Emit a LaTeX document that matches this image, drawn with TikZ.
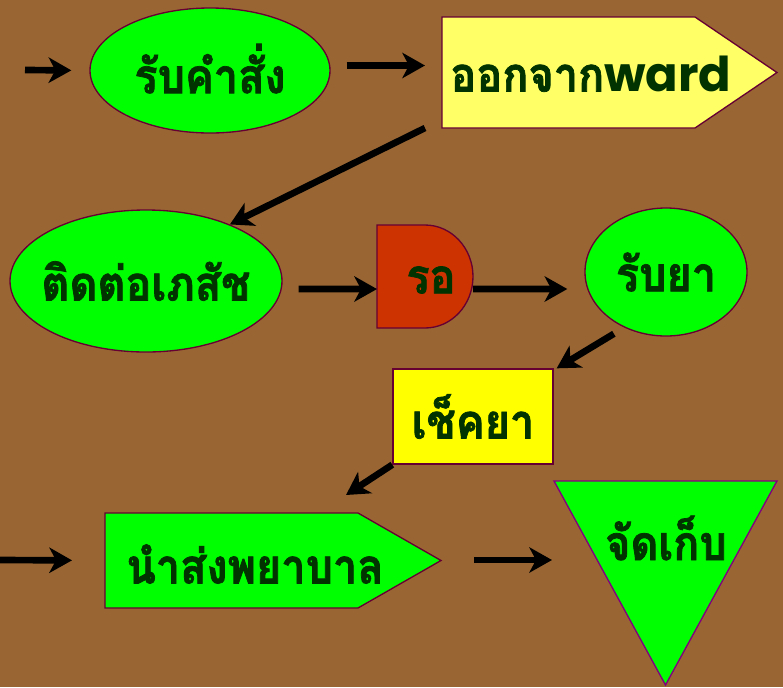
\documentclass[tikz,border=0pt]{standalone}
\usepackage{fontspec}
\newfontfamily\thaifont[Script=Thai, FakeStretch=0.9, BoldFeatures={FakeBold=1.5}]{Loma}
\newfontfamily\latinfont{Poppins}
\usetikzlibrary{shapes.geometric,arrows.meta}

\definecolor{fond}{HTML}{996633}
\definecolor{vert}{HTML}{00FF00}
\definecolor{jaunepale}{HTML}{FFFF66}
\definecolor{jaune}{HTML}{FFFF00}
\definecolor{brique}{HTML}{CC3300}
\definecolor{bordeaux}{HTML}{660033}
\definecolor{violet}{HTML}{800080}
\definecolor{vertfonce}{HTML}{003300}

\tikzset{
  forme/.style={draw=bordeaux, line width=1pt},
  ovale/.style={forme, ellipse, fill=vert, inner xsep=-60pt, inner ysep=-30pt},
  corps/.style={inner sep=0pt, outer sep=0pt},
  texte/.style={text=vertfonce, inner sep=0pt,
    font=\thaifont\bfseries\fontsize{36}{42}\selectfont},
  fleche/.style={line width=5pt, -{Stealth[length=17pt,width=19pt,inset=5pt]}},
}

\begin{document}
\begin{tikzpicture}[x=0.75pt,y=-0.75pt]
   % Dessiner le fond
   \fill[fond] (0,0) rectangle (783,687);
   \useasboundingbox (0,0) rectangle (783,687);

   % Recevoir l'ordre
   \node[texte, ovale, minimum width=180pt, minimum height=93.75pt] (ordre) at (210,70.5) {\raisebox{3pt}{รับคำสั่ง}};

   % Sortir du ward (fleche pentagonale)
   \node[corps, minimum width=189.75pt, minimum height=83.25pt] (ward) at (568.5,72.5) {};
   \draw[forme, fill=jaunepale] (ward.north west) -- (ward.north east)
      -- (777,72.5) -- (ward.south east) -- (ward.south west) -- cycle;
   \node[texte] (ward-txt) at (591,74) {ออกจาก{\latinfont\bfseries\fontsize{36}{40}\selectfont ward}};

   % Contacter la pharmacie
   \node[texte, ovale, minimum width=204pt, minimum height=106.5pt] (pharma) at (146,281) {ติดต่อเภสัช};

   % Attendre (forme de retard)
   \node[corps, minimum width=72pt, minimum height=77.25pt] (attente) at (425,276.5) {};
   \draw[forme, fill=brique] (attente.south west) -- (attente.north west) -- (attente.north)
      arc[start angle=90, end angle=-90, x radius=36pt, y radius=38.625pt] -- cycle;
   \node[texte] (attente-txt) at (431,280) {รอ};

   % Recevoir les medicaments
   \node[texte, ovale, minimum width=121.5pt, minimum height=96pt] (recu) at (666,272) {รับยา};

   % Verifier
   \node[forme, fill=jaune, texte, minimum width=120pt, minimum height=71.25pt] (verif) at (473,416.5) {เช็คยา};

   % Envoyer a l'infirmiere
   \node[corps, minimum width=189.75pt, minimum height=71.25pt] (envoi) at (231.5,560.5) {};
   \draw[forme, fill=vert] (envoi.north west) -- (envoi.north east)
      -- (441,560.5) -- (envoi.south east) -- (envoi.south west) -- cycle;
   \node[texte] (envoi-txt) at (255,564) {นำส่งพยาบาล};

   % Ranger (triangle inverse)
   \node[corps, minimum width=167.25pt, minimum height=153pt] (rangement) at (665.5,583) {};
   \draw[forme, draw=violet, fill=vert] (rangement.north west) -- (rangement.north east)
      -- (rangement.south) -- cycle;
   \node[texte] (rangement-txt) at (666,538) {จัดเก็บ};

   % Fleches entre les etapes
   \coordinate (debut) at (25,70);
   \coordinate (entree) at (0,560);
   \draw[fleche, shorten >=13.5pt] (debut) -- (ordre.west);
   \draw[fleche, shorten <=12pt, shorten >=12.75pt]
      ([yshift=3.75pt]ordre.east) -- ([yshift=5.25pt]ward.west);
   \draw[fleche] ([xshift=-12.75pt]ward.south west) -- (pharma.34);
   \draw[fleche, shorten <=12pt]
      ([yshift=-6pt]pharma.east) -- ([yshift=-9.4pt]attente.west);
   \draw[fleche, shorten >=12.75pt]
      ([yshift=-9.4pt]attente.east) -- ([yshift=-12.75pt]recu.west);
   \draw[fleche, shorten <=9pt] (recu.233) -- ([xshift=2.25pt]verif.north east);
   \draw[fleche] (verif.south west) -- ([shift={(-12,-18)}]envoi.north east);
   \draw[fleche, shorten >=24.75pt] (entree) -- (envoi.west);
   \draw[fleche, shorten <=24.75pt, shorten >=1.5pt]
      ([yshift=0.375pt]envoi.east -| 441,0) -- ([yshift=17.25pt]rangement.west);
\end{tikzpicture}
\end{document}
